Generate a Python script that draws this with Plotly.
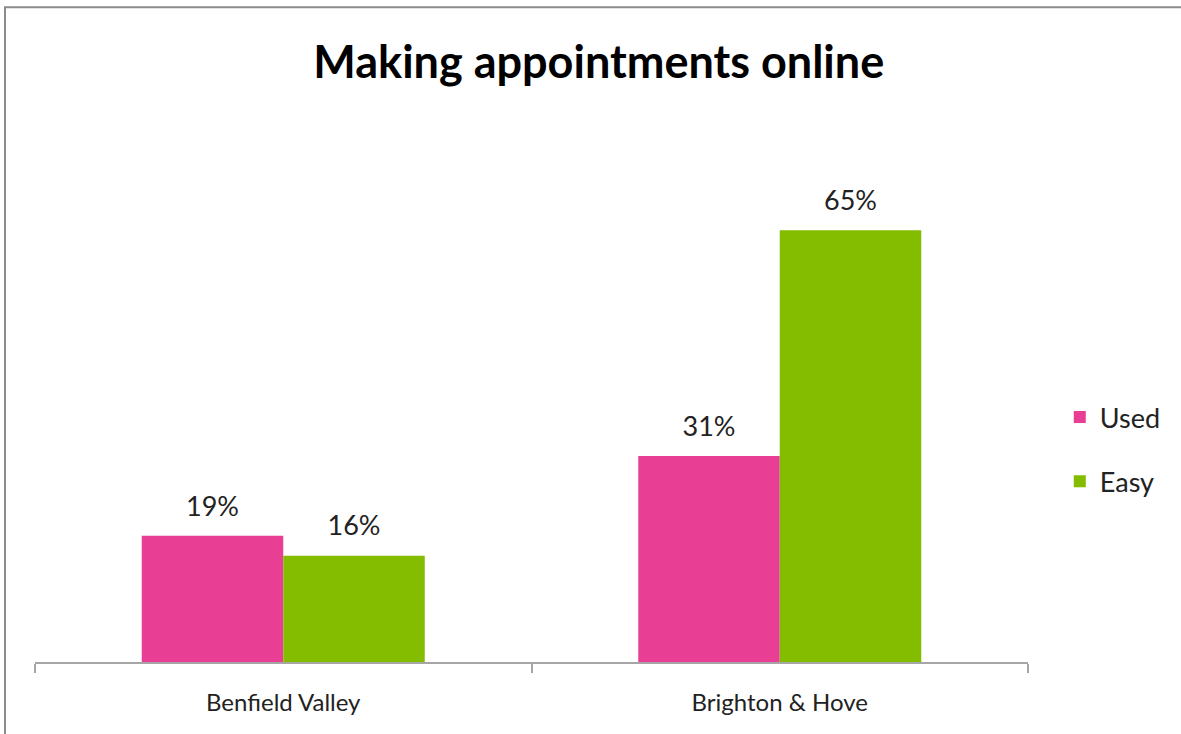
import plotly.graph_objects as go

# Survey results: share of respondents using / finding online booking easy
areas = ["Benfield Valley", "Brighton & Hove"]
used = [19, 31]
easy = [16, 65]

series_names = ["Used", "Easy"]
series_colors = ["#E83F94", "#84BD00"]

FONT = "Lato"

fig = go.Figure()
for name, vals, col in zip(series_names, [used, easy], series_colors):
    fig.add_trace(go.Bar(
        name=name,
        x=areas,
        y=vals,
        offsetgroup=name,
        marker=dict(color=col, line=dict(width=0)),
        legendgroup=name,
    ))
    # value labels, grouped alongside their bars
    fig.add_trace(go.Scatter(
        x=areas,
        y=vals,
        offsetgroup=name,
        mode="markers+text",
        marker=dict(size=20, opacity=0),
        text=[f"{v}%" for v in vals],
        textposition="top center",
        textfont=dict(family=FONT, size=27, color="#222222"),
        cliponaxis=False,
        showlegend=False,
        hoverinfo="skip",
    ))

fig.update_layout(
    width=1181,
    height=734,
    paper_bgcolor="white",
    plot_bgcolor="white",
    barmode="group",
    scattermode="group",
    bargap=0.43,
    bargroupgap=0,
    margin=dict(l=35, r=153, t=197, b=72),
    title=dict(
        text="<b>Making appointments online</b>",
        font=dict(family=FONT, size=45, color="#000000"),
        x=0.507, xanchor="center",
        y=0.915, yanchor="middle",
    ),
    font=dict(family=FONT, color="#222222"),
    showlegend=True,
    legend=dict(
        x=1.032, y=0.457, xanchor="left", yanchor="middle",
        font=dict(family=FONT, size=27, color="#222222"),
        tracegroupgap=26,
        bgcolor="rgba(0,0,0,0)",
    ),
    xaxis=dict(
        showline=True, linecolor="#A6A6A6", linewidth=2,
        ticks="outside", tickson="boundaries", ticklen=9,
        tickcolor="#A6A6A6", tickwidth=2,
        tickfont=dict(family=FONT, size=24, color="#222222"),
        ticklabelstandoff=18,
        showgrid=False,
    ),
    yaxis=dict(
        range=[0, 70],
        visible=False,
        showgrid=False,
        zeroline=False,
    ),
    shapes=[dict(
        type="rect", xref="paper", yref="paper",
        x0=-0.0302, x1=1.3, y0=-0.3, y1=1.408,
        line=dict(color="#8C8C8C", width=2),
        fillcolor="rgba(0,0,0,0)", layer="below",
    )],
)

fig.write_html("out.html")
